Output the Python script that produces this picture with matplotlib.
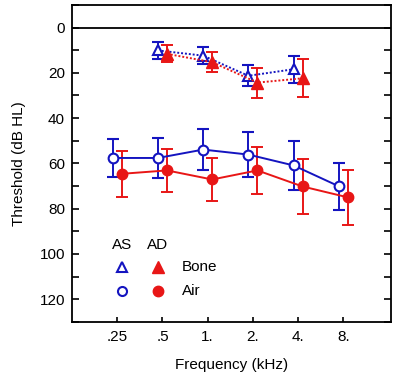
import numpy as np
import matplotlib
matplotlib.use("Agg")
import matplotlib.pyplot as plt
from matplotlib.ticker import MultipleLocator

plt.rcParams['font.family'] = ['Liberation Sans', 'DejaVu Sans']

freq_labels = ['.25', '.5', '1.', '2.', '4.', '8.']

# Air conduction (all 6 frequencies)
as_air = [57.6, 57.6, 53.9, 56.1, 60.9, 70.1]
as_air_err = [8.4, 8.8, 8.9, 9.8, 10.7, 10.4]
ad_air = [64.6, 63.1, 67.1, 63.1, 70.2, 75.0]
ad_air_err = [10.2, 9.6, 9.4, 10.5, 12.1, 12.3]

# Bone conduction (.5, 1, 2, 4 kHz)
bone_idx = [1, 2, 3, 4]
as_bone = [10.1, 12.4, 21.3, 18.4]
as_bone_err = [3.8, 3.7, 4.7, 6.0]
ad_bone = [11.6, 15.3, 24.3, 22.4]
ad_bone_err = [3.7, 4.5, 6.6, 8.3]

blue = '#1414c0'
red = '#e81616'

fs = 11

fig = plt.figure(figsize=(4.0, 3.8), dpi=100)
ax = fig.add_axes([0.18, 0.153, 0.797, 0.834])

x = np.arange(len(freq_labels))
xb = np.array(bone_idx)
off = 0.1
lw = 1.4
cs = 4.5

ax.axhline(0, color='black', lw=1.3, zorder=1)

ax.errorbar(x - off, as_air, yerr=as_air_err, color=blue, lw=lw, capsize=cs,
            capthick=lw, marker='o', ms=7, mfc='white', mec=blue, mew=1.5, zorder=3)
ax.errorbar(x + off, ad_air, yerr=ad_air_err, color=red, lw=lw, capsize=cs,
            capthick=lw, marker='o', ms=7.5, mfc=red, mec=red, zorder=3)
ax.errorbar(xb - off, as_bone, yerr=as_bone_err, color=blue, lw=lw, capsize=cs,
            capthick=lw, marker='^', ms=7.5, mfc='white', mec=blue, mew=1.5,
            ls=(0, (1, 1)), zorder=3)
ax.errorbar(xb + off, ad_bone, yerr=ad_bone_err, color=red, lw=lw, capsize=cs,
            capthick=lw, marker='^', ms=8, mfc=red, mec=red, ls=(0, (1, 1)), zorder=3)

ax.set_xlim(-1, 6.05)
ax.set_ylim(130, -10)
ax.set_xticks(x)
ax.set_xticklabels(freq_labels)
ax.yaxis.set_major_locator(MultipleLocator(20))
ax.yaxis.set_minor_locator(MultipleLocator(10))
ax.tick_params(axis='y', which='both', direction='in', length=5, width=1.2,
               right=True, labelsize=fs, pad=5)
ax.tick_params(axis='x', which='both', direction='in', length=3.5, width=1.2,
               top=False, labelsize=fs, pad=6)
for s in ax.spines.values():
    s.set_linewidth(1.3)

ax.set_xlabel('Frequency (kHz)', fontsize=fs, labelpad=10)
ax.set_ylabel('Threshold (dB HL)', fontsize=fs, labelpad=10)

# Legend
tr = ax.transAxes
ax.text(0.157, 0.243, 'AS', transform=tr, ha='center', va='center', fontsize=fs)
ax.text(0.269, 0.243, 'AD', transform=tr, ha='center', va='center', fontsize=fs)
ax.plot([0.157], [0.173], transform=tr, marker='^', ms=7, mfc='white', mec=blue, mew=1.5, ls='none', clip_on=False)
ax.plot([0.269], [0.173], transform=tr, marker='^', ms=8, mfc=red, mec=red, ls='none', clip_on=False)
ax.plot([0.157], [0.097], transform=tr, marker='o', ms=6.5, mfc='white', mec=blue, mew=1.5, ls='none', clip_on=False)
ax.plot([0.269], [0.097], transform=tr, marker='o', ms=7.5, mfc=red, mec=red, ls='none', clip_on=False)
ax.text(0.345, 0.173, 'Bone', transform=tr, ha='left', va='center', fontsize=fs)
ax.text(0.345, 0.097, 'Air', transform=tr, ha='left', va='center', fontsize=fs)

fig.savefig('out.png', dpi=100)
